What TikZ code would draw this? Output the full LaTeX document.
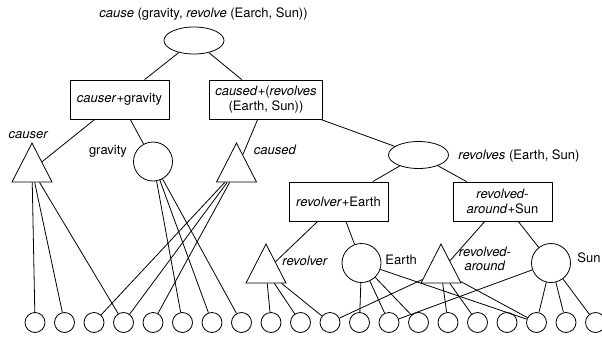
\documentclass[tikz,border=0pt]{standalone}
\usepackage{amsmath, amssymb}
\usepackage{fontspec}
\setmainfont{TeX Gyre Heros}
\usetikzlibrary{shapes.geometric}

\begin{document}
\begin{tikzpicture}[x=1pt, y=-1pt, line width=0.8pt,
    every node/.style={font=\fontsize{13}{14.5}\selectfont},
    pred/.style={draw, ellipse, minimum width=60, minimum height=27, inner sep=0pt},
    bind/.style={draw, rectangle, minimum width=99, minimum height=39, inner sep=6pt, align=center},
    role/.style={draw, isosceles triangle, shape border rotate=90, isosceles triangle stretches,
                 minimum width=40, minimum height=39, inner sep=0pt, anchor=apex},
    obj/.style={draw, circle, minimum size=39, inner sep=0pt},
    sem/.style={draw, circle, minimum size=20, inner sep=0pt},
    lbl/.style={inner sep=0pt}]
            \useasboundingbox (0, 0) rectangle (602, 337);

            % Propositions
            \node[pred] (cause) at (194, 40.5) {};
            \node[lbl, anchor=base] (causeLbl) at (203.5, 17.5) {\textit{cause} (gravity, \textit{revolve} (Earch, Sun))};
            \node[pred] (revolves) at (418.5, 155) {};
            \node[lbl, anchor=base west] (revolvesLbl) at (458, 159.5) {\textit{revolves} (Earth, Sun)};

            % Sub-propositions
            \node[bind] (causerGravity) at (119.5, 99.5) {\textit{causer}+gravity};
            \node[bind] (causedRevolves) at (266, 99.5) {\textit{caused}+(\textit{revolves}\\(Earth, Sun))};
            \node[bind] (revolverEarth) at (338.5, 201.5) {\textit{revolver}+Earth};
            \node[bind] (revolvedSun) at (502.5, 201.5) {\textit{revolved-}\\\textit{around}+Sun};

            % Roles
            \node[role] (causer) at (32, 142) {};
            \node[role] (caused) at (236.5, 142) {};
            \node[role] (revolver) at (266, 243) {};
            \node[role] (revolved) at (441, 243) {};
            \node[lbl, anchor=base] (causerLbl) at (28.5, 138.5) {\textit{causer}};
            \node[lbl, anchor=base west] (causedLbl) at (253.5, 154) {\textit{caused}};
            \node[lbl, anchor=base west] (revolverLbl) at (282, 265) {\textit{revolver}};
            \node[lbl, align=center] (revolvedLbl) at (485, 259) {\textit{revolved-}\\\textit{around}};

            % Objects
            \node[obj] (gravity) at (153, 161.5) {};
            \node[obj] (earth) at (361.5, 263) {};
            \node[obj] (sun) at (551, 263) {};
            \node[lbl, anchor=base] (gravityLbl) at (108, 154) {gravity};
            \node[lbl, anchor=base west] (earthLbl) at (385, 264.5) {Earth};
            \node[lbl, anchor=base west] (sunLbl) at (577, 262) {Sun};

            % Semantic units
            \node[sem] (s1) at (35, 322.5) {};
            \node[sem] (s2) at (64.5, 322.5) {};
            \node[sem] (s3) at (94, 322.5) {};
            \node[sem] (s4) at (123.5, 322.5) {};
            \node[sem] (s5) at (153, 322.5) {};
            \node[sem] (s6) at (182.5, 322.5) {};
            \node[sem] (s7) at (212, 322.5) {};
            \node[sem] (s8) at (241.5, 322.5) {};
            \node[sem] (s9) at (271, 322.5) {};
            \node[sem] (s10) at (300.5, 322.5) {};
            \node[sem] (s11) at (330, 322.5) {};
            \node[sem] (s12) at (359.5, 322.5) {};
            \node[sem] (s13) at (389, 322.5) {};
            \node[sem] (s14) at (418.5, 322.5) {};
            \node[sem] (s15) at (448, 322.5) {};
            \node[sem] (s16) at (477.5, 322.5) {};
            \node[sem] (s17) at (507, 322.5) {};
            \node[sem] (s18) at (536.5, 322.5) {};
            \node[sem] (s19) at (566, 322.5) {};
            \node[sem] (s20) at (595.5, 322.5) {};

            % Edges
            \draw[-] (cause) -- (causerGravity);
            \draw[-] (cause) -- (causedRevolves);
            \draw[-] (causerGravity) -- (causer);
            \draw[-] (causerGravity) -- (gravity);
            \draw[-] (causedRevolves) -- (caused);
            \draw[-] (causedRevolves) -- (revolves);
            \draw[-] (revolves) -- (revolverEarth);
            \draw[-] (revolves) -- (revolvedSun);
            \draw[-] (revolverEarth) -- (revolver);
            \draw[-] (revolverEarth) -- (earth);
            \draw[-] (revolvedSun) -- (revolved);
            \draw[-] (revolvedSun) -- (sun);

            % Semantic links
            \draw[-] (causer) -- (s1);
            \draw[-] (causer) -- (s2);
            \draw[-] (causer) -- (s4);
            \draw[-] (caused) -- (s3);
            \draw[-] (caused) -- (s4);
            \draw[-] (caused) -- (s5);
            \draw[-] (gravity) -- (s6);
            \draw[-] (gravity) -- (s7);
            \draw[-] (gravity) -- (s8);
            \draw[-] (revolver) -- (s9);
            \draw[-] (revolver) -- (s10);
            \draw[-] (revolver) -- (s11);
            \draw[-] (earth) -- (s12);
            \draw[-] (earth) -- (s13);
            \draw[-] (earth) -- (s14);
            \draw[-] (earth) -- (s18);
            \draw[-] (revolved) -- (s11);
            \draw[-] (revolved) -- (s15);
            \draw[-] (revolved) -- (s16);
            \draw[-] (revolved) -- (s18);
            \draw[-] (sun) -- (s13);
            \draw[-] (sun) -- (s18);
            \draw[-] (sun) -- (s19);
            \draw[-] (sun) -- (s20);
        \end{tikzpicture}
\end{document}
